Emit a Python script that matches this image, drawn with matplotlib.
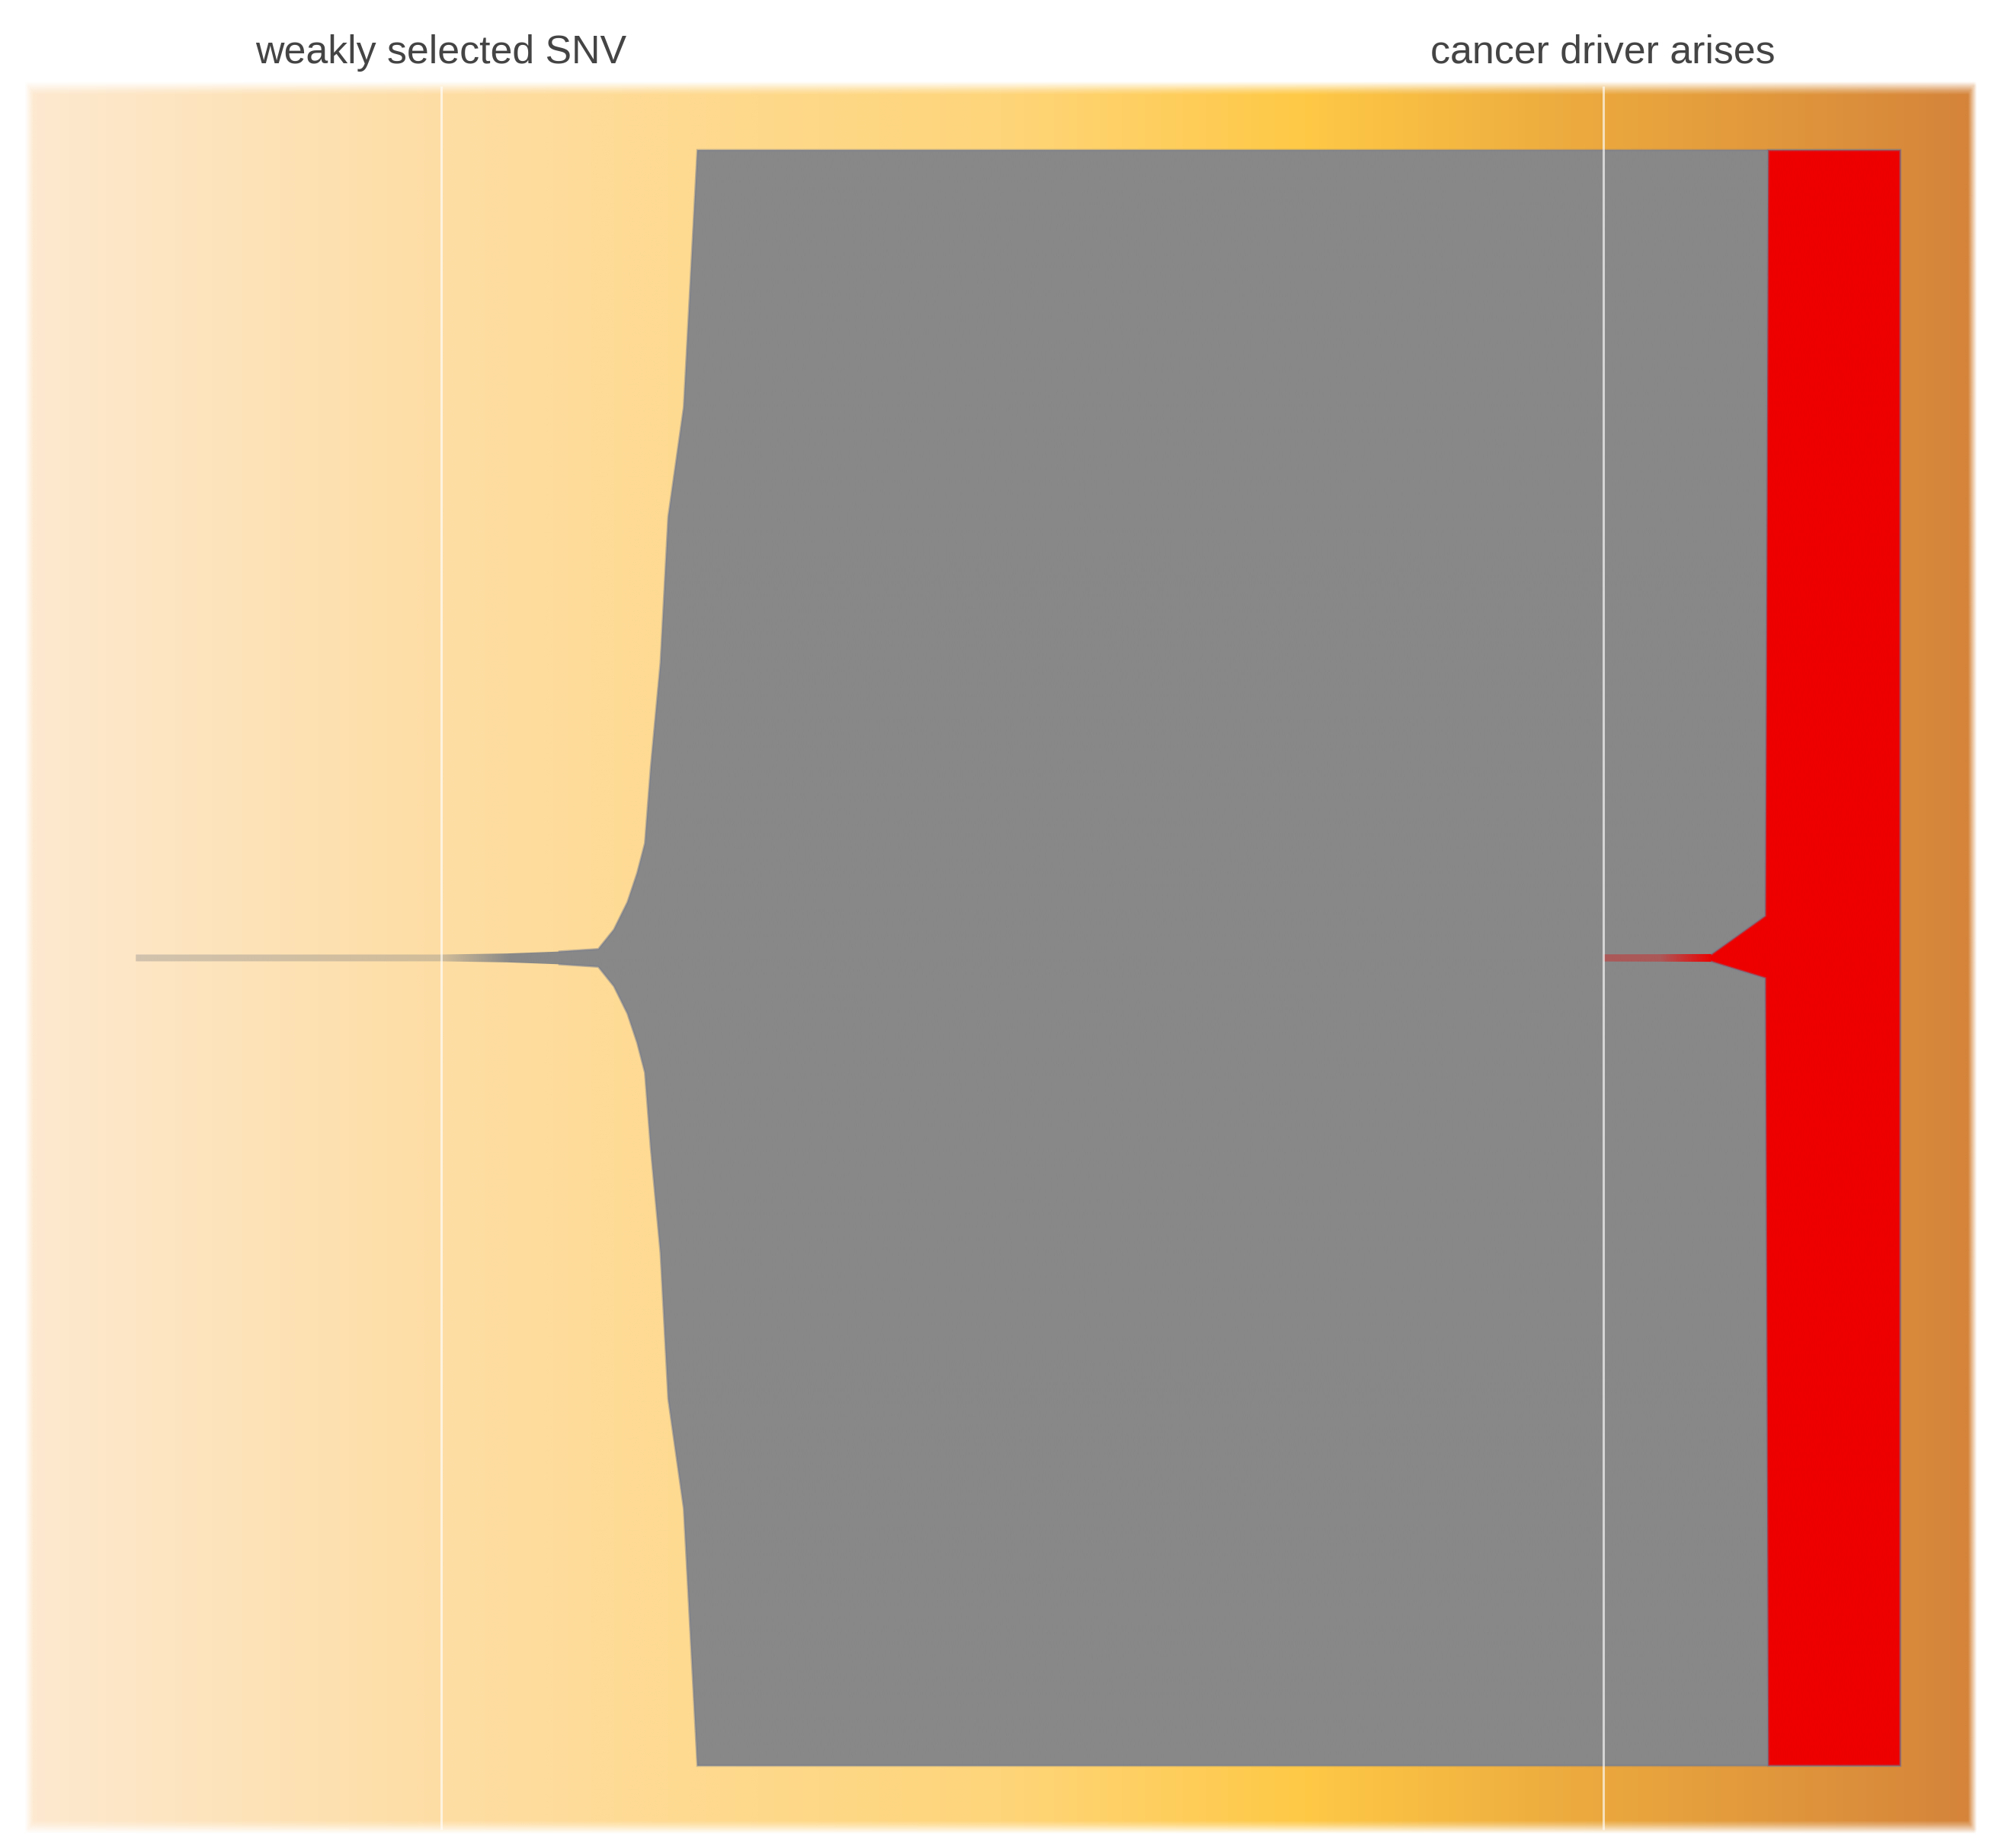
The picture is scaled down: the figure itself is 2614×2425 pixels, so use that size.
import numpy as np
import matplotlib
matplotlib.use('Agg')
import matplotlib.pyplot as plt
from matplotlib.colors import LinearSegmentedColormap, to_rgb
from matplotlib.patches import Polygon

# time runs 0..100 across the shaded panel, clone size is a fraction of the population
events = [21.2, 81.0]
event_labels = ['weakly selected SNV', 'cancer driver arises']

# grey (parent) clone, symmetric around the middle
grey_t = [5.5, 21.2, 24.6, 27.3, 29.3, 30.1, 30.8, 31.3, 31.7, 32.0, 32.5, 32.9, 33.7, 34.4, 96.3]
grey_f = [0.0042, 0.0042, 0.0055, 0.0079, 0.011, 0.035, 0.069, 0.105, 0.142, 0.236, 0.365, 0.546, 0.682, 1.0, 1.0]

# red (driver) clone, not quite symmetric while it is small
red_t = [81.0, 86.6, 89.35, 89.5, 96.3]
red_up = [0.0044, 0.0048, 0.052, 1.0, 1.0]
red_lo = [0.0044, 0.0048, 0.025, 1.0, 1.0]

bg_stops = [0.0, 0.2, 0.34, 0.5, 0.655, 0.81, 1.0]
bg_cols = ['#FDE9D0', '#FEDEA6', '#FEDA90', '#FED57A', '#FFC946', '#EBA83E', '#D5843A']

PANEL_H = 0.5394


def background(ax):
    cmap = LinearSegmentedColormap.from_list('bg', list(zip(bg_stops, bg_cols)))
    nx, ny = 1600, 400
    x0, x1, y0, y1 = -0.25, 100.25, -PANEL_H - 0.004, PANEL_H + 0.004
    xs = np.linspace(x0, x1, nx)
    ys = np.linspace(y0, y1, ny)
    rgba = cmap(np.clip(xs / 100.0, 0, 1))[None, :, :].repeat(ny, axis=0)
    ax_ = np.clip(np.minimum(xs - x0, x1 - xs) / 0.45, 0, 1)
    ay_ = np.clip(np.minimum(ys - y0, y1 - ys) / 0.0075, 0, 1)
    rgba[..., 3] = np.minimum(ax_[None, :], ay_[:, None])
    ax.imshow(rgba, extent=(x0, x1, y0, y1), aspect='auto', interpolation='bilinear',
              origin='lower', zorder=1)


def draw_clone(ax, t, up, lo, color, fade0, fade1, a0, z):
    t = np.asarray(t, float)
    up = np.asarray(up, float) / 2
    lo = np.asarray(lo, float) / 2
    verts = list(zip(t, up)) + list(zip(t[::-1], -lo[::-1]))
    poly = Polygon(verts, closed=True, facecolor='none', edgecolor='none')
    ax.add_patch(poly)
    xs = np.linspace(t[0], t[-1], 2000)
    rgba = np.zeros((2, len(xs), 4))
    rgba[..., :3] = to_rgb(color)
    rgba[..., 3] = np.interp(xs, [fade0, fade1], [a0, 1.0])
    im = ax.imshow(rgba, extent=(t[0], t[-1], -0.5, 0.5), aspect='auto',
                   interpolation='bilinear', zorder=z)
    im.set_clip_path(poly)
    # soft outline on the solid part
    k = t >= fade1
    ex = np.concatenate([t[k], t[k][::-1]])
    ey = np.concatenate([up[k], -lo[k][::-1]])
    ax.plot(ex, ey, color='#6f7890', alpha=0.45, lw=2.0, zorder=z + 0.1,
            solid_joinstyle='miter')


fig = plt.figure(figsize=(26.14, 24.25), dpi=100)
ax = fig.add_axes([0, 0, 1, 1])
ax.set_xlim(-38 / 25.5, (2614 - 38) / 25.5)
ax.set_ylim(-(2425 - 1257) / 2120, 1257 / 2120)
ax.axis('off')

background(ax)
draw_clone(ax, grey_t, grey_f, grey_f, '#888888', 21.2, 24.8, 0.38, 3)
draw_clone(ax, red_t, red_up, red_lo, '#EE0000', 83.9, 86.6, 0.35, 4)

ax.vlines(events, -PANEL_H, PANEL_H, colors='white', alpha=0.65, lw=2.2, zorder=6)
for t, lab in zip(events, event_labels):
    ax.text(t, 0.5538, lab, ha='center', va='baseline', fontsize=37.4,
            family=['Liberation Sans', 'DejaVu Sans'], color='#444444')

fig.savefig('out.png', dpi=100)
